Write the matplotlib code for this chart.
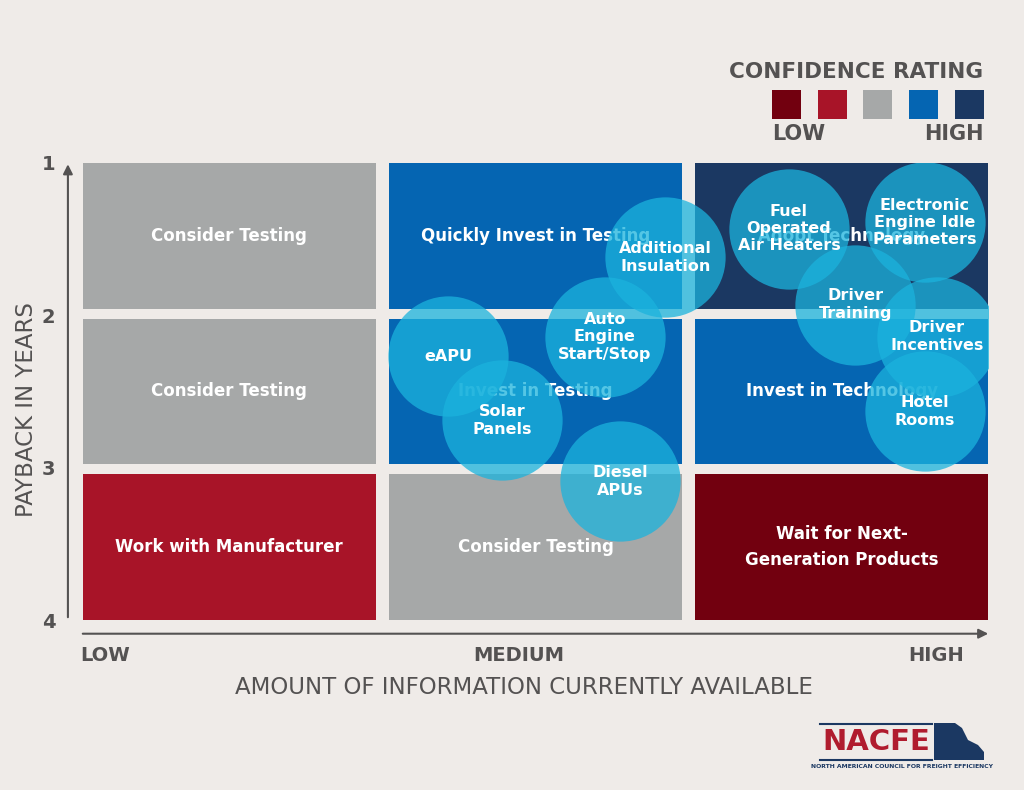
import matplotlib.pyplot as plt
from matplotlib.patches import Rectangle, Polygon

# data
cell_labels = [
    ["Consider Testing", "Quickly Invest in Testing", "Adopt Technology"],
    ["Consider Testing", "Invest in Testing", "Invest in Technology"],
    ["Work with Manufacturer", "Consider Testing", "Wait for Next-\nGeneration Products"],
]
cell_colors = [
    ["#a6a8a8", "#0565b2", "#1b3862"],
    ["#a6a8a8", "#0565b2", "#0565b2"],
    ["#a81428", "#a6a8a8", "#72000f"],
]
tech_names = ["Fuel\nOperated\nAir Heaters", "Electronic\nEngine Idle\nParameters", "Driver\nTraining",
              "Driver\nIncentives", "Hotel\nRooms", "Additional\nInsulation", "Auto\nEngine\nStart/Stop",
              "eAPU", "Solar\nPanels", "Diesel\nAPUs"]
info_level = [2.34, 2.79, 2.56, 2.83, 2.79, 1.93, 1.73, 1.21, 1.39, 1.78]
payback = [1.43, 1.39, 1.93, 2.14, 2.63, 1.62, 2.14, 2.27, 2.69, 3.09]
y_ticks = [1, 2, 3, 4]
x_levels = ["LOW", "MEDIUM", "HIGH"]
conf_colors = ["#72000f", "#a81428", "#a6a8a8", "#0565b2", "#1b3862"]

bg = "#efebe8"
grey_txt = "#545252"

fig = plt.figure(figsize=(10.24, 7.9), dpi=100, facecolor=bg)
ax = fig.add_axes([83 / 1024, 1 - 620 / 790, 905 / 1024, 457 / 790])
ax.set_facecolor(bg)
ax.set_xlim(0, 3)
ax.set_ylim(4, 1)
for s in ax.spines.values():
    s.set_visible(False)

# grid of cells
w, gx = 0.97, 0.045
h, gy = 0.957, 0.0645
for r in range(3):
    for c in range(3):
        x0 = c * (w + gx)
        y0 = 1 + r * (h + gy)
        ax.add_patch(Rectangle((x0, y0), w, h, color=cell_colors[r][c], zorder=1, lw=0))
        ax.text(x0 + w / 2, y0 + h / 2, cell_labels[r][c], ha="center", va="center",
                color="white", fontsize=12, fontweight="bold", zorder=2, linespacing=1.6)

# bubbles
ax.scatter(info_level, payback, s=7500, color="#1bb3dd", alpha=0.75, lw=0, zorder=3)
for name, xv, yv in zip(tech_names, info_level, payback):
    ax.text(xv, yv, name, ha="center", va="center", color="white", fontsize=11.5,
            fontweight="bold", zorder=4, linespacing=1.2)

# axes arrows and ticks
ax.annotate("", xy=(-0.05, 0.99), xytext=(-0.05, 4.0), annotation_clip=False,
            arrowprops=dict(arrowstyle="-|>", color=grey_txt, lw=1.5, mutation_scale=14))
ax.annotate("", xy=(3.01, 4.09), xytext=(-0.01, 4.09), annotation_clip=False,
            arrowprops=dict(arrowstyle="-|>", color=grey_txt, lw=1.5, mutation_scale=14))
ax.set_yticks(y_ticks)
ax.set_yticklabels([str(t) for t in y_ticks], fontsize=14, fontweight="bold", color=grey_txt)
ax.tick_params(axis="y", length=0, pad=20)
ax.get_yticklabels()[0].set_y(1.06)
ax.set_xticks([])

ax.text(-0.01, 4.23, x_levels[0], ha="left", va="center", fontsize=14, fontweight="bold", color=grey_txt)
ax.text(1.445, 4.23, x_levels[1], ha="center", va="center", fontsize=14, fontweight="bold", color=grey_txt)
ax.text(2.92, 4.23, x_levels[2], ha="right", va="center", fontsize=14, fontweight="bold", color=grey_txt)

fig.text(524 / 1024, 1 - 688 / 790, "AMOUNT OF INFORMATION CURRENTLY AVAILABLE", ha="center", va="center",
         fontsize=16.5, color=grey_txt)
fig.text(27 / 1024, 1 - 410 / 790, "PAYBACK IN YEARS", ha="center", va="center", rotation=90,
         fontsize=16.5, color=grey_txt)

# confidence legend
fig.text(983 / 1024, 1 - 72 / 790, "CONFIDENCE RATING", ha="right", va="center",
         fontsize=15.5, fontweight="bold", color=grey_txt)
for i, col in enumerate(conf_colors):
    x0 = (772 + i * 45.7) / 1024
    fig.add_artist(Rectangle((x0, 1 - 119 / 790), 29 / 1024, 29 / 790, color=col,
                             transform=fig.transFigure, lw=0))
fig.text(772 / 1024, 1 - 134 / 790, "LOW", ha="left", va="center", fontsize=15,
         fontweight="bold", color=grey_txt)
fig.text(984 / 1024, 1 - 134 / 790, "HIGH", ha="right", va="center", fontsize=15,
         fontweight="bold", color=grey_txt)

# NACFE logo
navy = "#1b3862"
for yl in (724, 760):
    fig.add_artist(plt.Line2D([820 / 1024, 932 / 1024], [1 - yl / 790] * 2, color=navy, lw=1.5,
                              transform=fig.transFigure))
fig.text(876 / 1024, 1 - 742 / 790, "NACFE", ha="center", va="center", fontsize=21,
         fontweight="bold", color="#b01c2e")
cab = [(934, 723), (955, 723), (962, 728), (968, 740), (978, 745), (984, 752), (984, 760), (934, 760)]
fig.add_artist(Polygon([(px / 1024, 1 - py / 790) for px, py in cab], closed=True, color=navy,
                       transform=fig.transFigure, lw=0))
fig.text(902 / 1024, 1 - 767 / 790, "NORTH AMERICAN COUNCIL FOR FREIGHT EFFICIENCY", ha="center",
         va="center", fontsize=4.4, fontweight="bold", color=navy)

fig.savefig("out.png", dpi=100, facecolor=bg)
